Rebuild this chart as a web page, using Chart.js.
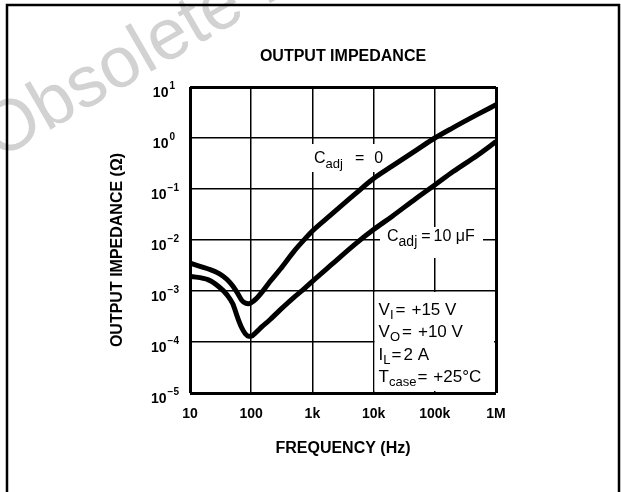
<!DOCTYPE html>
<html>
<head>
<meta charset="utf-8">
<script src="https://cdn.jsdelivr.net/npm/chart.js@4.4.1/dist/chart.umd.min.js"></script>
<style>
  html, body { margin: 0; padding: 0; background: #fff; }
  #wrap { position: relative; width: 621px; height: 492px; }
</style>
</head>
<body>
<div id="wrap"><canvas id="impedance" width="621" height="492"></canvas></div>
<script>
// frequency points (Hz)
const freqHz = [10, 20, 30, 40, 50, 60, 70, 80, 90, 100, 120, 150, 200, 300, 500, 700,
  1000, 2000, 5000, 10000, 20000, 50000, 100000, 200000, 500000, 1000000];

// output impedance (ohm), Cadj = 0
const zCadj0 = [3.5e-3, 2.7e-3, 2.2e-3, 1.7e-3, 1.25e-3, 9.0e-4, 6.6e-4, 5.8e-4, 5.6e-4, 5.9e-4, 7.0e-4, 9.5e-4,
  1.5e-3, 2.7e-3, 6.0e-3, 9.5e-3, 0.015, 0.031, 0.08, 0.16, 0.28, 0.58, 1.0, 1.6, 2.9, 4.5];

// output impedance (ohm), Cadj = 10 uF
const zCadj10u = [1.95e-3, 1.65e-3, 1.2e-3, 8.5e-4, 5.6e-4, 3.0e-4, 1.9e-4, 1.45e-4, 1.3e-4, 1.3e-4, 1.55e-4, 2.0e-4,
  2.7e-4, 4.3e-4, 7.5e-4, 1.05e-3, 1.55e-3, 3.2e-3, 8.3e-3, 0.016, 0.029, 0.066, 0.12, 0.22, 0.46, 0.85];

const xTicks = [10, 100, 1e3, 1e4, 1e5, 1e6];
const xTickLabels = ['10', '100', '1k', '10k', '100k', '1M'];
const yTicks = [1e-5, 1e-4, 1e-3, 1e-2, 1e-1, 1, 10];
const yTickExps = ['\u22125', '\u22124', '\u22123', '\u22122', '\u22121', '0', '1'];

const SANS = "'Liberation Sans', Arial, Helvetica, sans-serif";
const NARROW = "'Liberation Sans Narrow', 'Arial Narrow', 'Liberation Sans', sans-serif";

// draw a run of text pieces (main text / subscripts) left to right
function drawRich(ctx, x, y, parts) {
  let cx = x;
  parts.forEach(p => {
    cx += p.gap || 0;
    ctx.font = (p.bold ? 'bold ' : '') + p.size + 'px ' + (p.family || SANS);
    ctx.fillText(p.t, cx, y + (p.dy || 0));
    cx += ctx.measureText(p.t).width;
  });
}

const decor = {
  id: 'decor',
  beforeDraw(chart) {
    const ctx = chart.ctx;
    // watermark
    ctx.save();
    ctx.translate(-2, 160);
    ctx.rotate(-30 * Math.PI / 180);
    ctx.fillStyle = '#d2d2d2';
    ctx.font = '72px ' + SANS;
    ctx.textBaseline = 'alphabetic';
    ctx.fillText('Obsolete Product(s)', 0, 0);
    ctx.restore();
  },
  beforeDatasetsDraw(chart) {
    const ctx = chart.ctx;
    const x = chart.scales.x, y = chart.scales.y;
    const area = chart.chartArea;
    ctx.save();
    ctx.fillStyle = '#fff';
    // label masks over the grid
    ctx.fillRect(310, 144, 76, 28);
    ctx.fillRect(380, 227, 103, 31);
    // conditions box
    const bx = x.getPixelForValue(1e4) + 1;
    const by = y.getPixelForValue(1e-3) + 1;
    ctx.fillRect(bx, by, area.right - 2 - bx, area.bottom - 2 - by);
    ctx.restore();
  },
  afterDatasetsDraw(chart) {
    const ctx = chart.ctx;
    const x = chart.scales.x, y = chart.scales.y;
    const area = chart.chartArea;
    ctx.save();
    ctx.fillStyle = '#000';
    ctx.textBaseline = 'alphabetic';
    ctx.textAlign = 'left';

    drawRich(ctx, 314, 163, [{ t: 'C', size: 16 }, { t: 'adj', size: 13, dy: 5 }, { t: '=', size: 16, gap: 12 }, { t: '0', size: 16, gap: 10 }]);
    drawRich(ctx, 387, 241, [{ t: 'C', size: 16 }, { t: 'adj', size: 14, dy: 5 }, { t: '=', size: 16, gap: 4 }, { t: '10 \u03bcF', size: 16, gap: 3 }]);

    const cx = x.getPixelForValue(1e4) + 5;
    drawRich(ctx, cx, 315, [{ t: 'V', size: 17 }, { t: 'I', size: 13, dy: 4 }, { t: '=', size: 17, gap: 2 }, { t: '+15 V', size: 17, gap: 6 }]);
    drawRich(ctx, cx, 337, [{ t: 'V', size: 17 }, { t: 'O', size: 13, dy: 4 }, { t: '=', size: 17, gap: 2 }, { t: '+10 V', size: 17, gap: 6 }]);
    drawRich(ctx, cx, 360, [{ t: 'I', size: 17 }, { t: 'L', size: 13, dy: 4 }, { t: '=', size: 17, gap: 1 }, { t: '2 A', size: 17, gap: 2 }]);
    drawRich(ctx, cx, 382, [{ t: 'T', size: 17 }, { t: 'case', size: 13, dy: 4 }, { t: '=', size: 17, gap: 1 }, { t: '+25\u00b0C', size: 17, gap: 6 }]);

    // y tick labels with superscript exponents
    yTicks.forEach((v, i) => {
      const py = y.getPixelForValue(v) + 10;
      const exp = yTickExps[i];
      ctx.font = 'bold 10px ' + NARROW;
      const ew = ctx.measureText(exp).width;
      ctx.font = 'bold 14px ' + NARROW;
      const bw = ctx.measureText('10').width;
      const right = exp.length > 1 ? 179 : 175;
      ctx.fillText('10', right - ew - bw - 1, py);
      ctx.font = 'bold 10px ' + NARROW;
      ctx.fillText(exp, right - ew, py - 8);
    });

    // titles
    ctx.textAlign = 'center';
    ctx.font = 'bold 16px ' + SANS;
    ctx.fillText('OUTPUT IMPEDANCE', (area.left + area.right) / 2, 61);
    ctx.fillText('FREQUENCY (Hz)', (area.left + area.right) / 2, 453);
    ctx.save();
    ctx.translate(122, 250);
    ctx.rotate(-Math.PI / 2);
    ctx.fillText('OUTPUT IMPEDANCE (\u03a9)', 0, 0);
    ctx.restore();

    // outer frame
    ctx.strokeStyle = '#000';
    ctx.lineWidth = 2.5;
    ctx.beginPath();
    ctx.moveTo(7, 492);
    ctx.lineTo(7, 5);
    ctx.lineTo(619, 5);
    ctx.lineTo(619, 492);
    ctx.stroke();
    ctx.restore();
  }
};

const ctx = document.getElementById('impedance').getContext('2d');
new Chart(ctx, {
  type: 'line',
  data: {
    datasets: [
      {
        label: 'Cadj = 0',
        data: freqHz.map((f, i) => ({ x: f, y: zCadj0[i] })),
        borderColor: '#000', borderWidth: 5, pointRadius: 0,
        cubicInterpolationMode: 'monotone', fill: false
      },
      {
        label: 'Cadj = 10 uF',
        data: freqHz.map((f, i) => ({ x: f, y: zCadj10u[i] })),
        borderColor: '#000', borderWidth: 5, pointRadius: 0,
        cubicInterpolationMode: 'monotone', fill: false
      }
    ]
  },
  options: {
    responsive: false,
    animation: false,
    devicePixelRatio: 1,
    layout: { padding: { top: 87, right: 125, left: 0, bottom: 0 } },
    plugins: { legend: { display: false }, tooltip: { enabled: false } },
    scales: {
      x: {
        type: 'logarithmic', min: 10, max: 1e6,
        afterBuildTicks: s => { s.ticks = xTicks.map(v => ({ value: v })); },
        afterFit: s => { s.height = 99; },
        ticks: {
          color: '#000', padding: 13, maxRotation: 0, autoSkip: false,
          font: { family: NARROW, size: 14, weight: 'bold' },
          callback: (v, i) => xTickLabels[i]
        },
        grid: { color: '#000', lineWidth: c => (c.index === 0 || c.index === xTicks.length - 1) ? 3 : 1.5, drawTicks: false },
        border: { display: false }
      },
      y: {
        type: 'logarithmic', min: 1e-5, max: 10,
        afterBuildTicks: s => { s.ticks = yTicks.map(v => ({ value: v })); },
        afterFit: s => { s.width = 190; },
        ticks: { display: false },
        grid: { color: '#000', lineWidth: c => (c.index === 0 || c.index === yTicks.length - 1) ? 3 : 1.5, drawTicks: false },
        border: { display: false }
      }
    }
  },
  plugins: [decor]
});
</script>
</body>
</html>
